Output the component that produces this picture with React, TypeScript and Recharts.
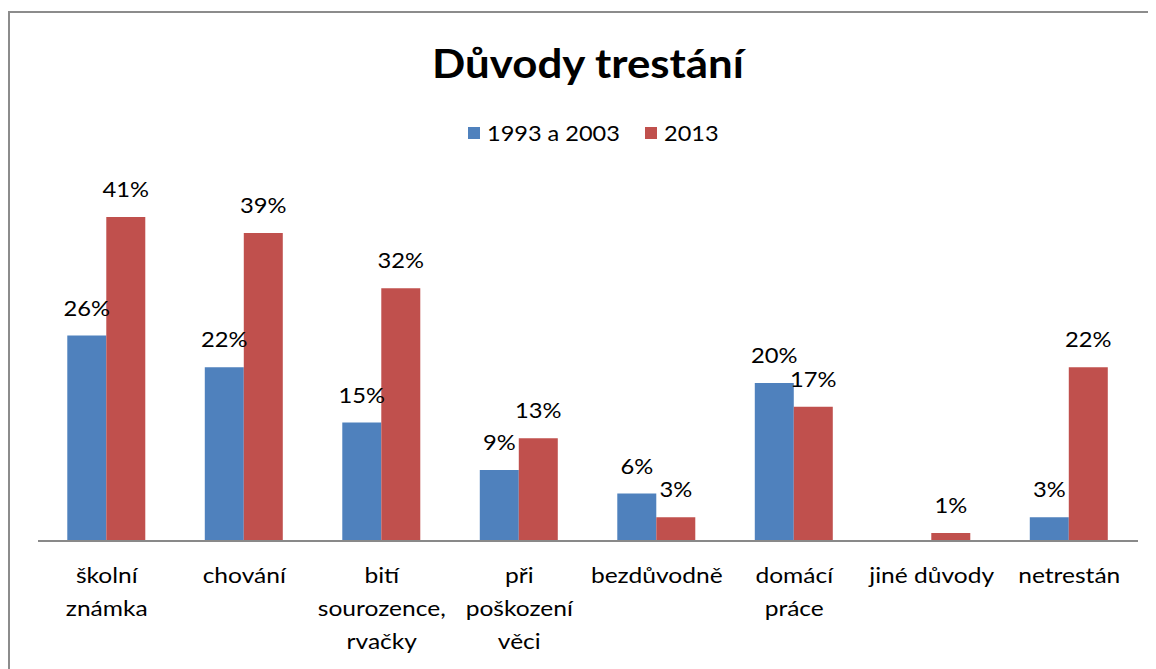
import { BarChart, Bar, XAxis, YAxis, Legend, LabelList } from 'recharts';

const categories = [
  'školní\nznámka',
  'chování',
  'bití\nsourozence,\nrvačky',
  'při\npoškození\nvěci',
  'bezdůvodně',
  'domácí\npráce',
  'jiné důvody',
  'netrestán',
];
const values1993 = [26, 22, 15, 9, 6, 20, null, 3];
const values2013 = [41, 39, 32, 13, 3, 17, 1, 22];
const seriesNames = ['1993 a 2003', '2013'];
const COLORS = ['#4F81BD', '#C0504D'];

const data = categories.map((name, i) => ({
  name,
  a: values1993[i],
  b: values2013[i],
}));

const FONT = 'Lato, "Open Sans", sans-serif';

// reference font (Calibri-like) runs wider than Lato, so stretch a bit
const CategoryTick = (props: any) => {
  const { x, y, payload } = props;
  const lines = String(payload.value).split('\n');
  return (
    <g>
      {lines.map((line, i) => (
        <text
          key={i}
          transform={`translate(${x},${y + 34 + i * 33}) scale(1.17,1)`}
          textAnchor="middle"
          fontSize={21}
          fontFamily={FONT}
          fill="#000"
        >
          {line}
        </text>
      ))}
    </g>
  );
};

const ValueLabel = (props: any) => {
  const { x, y, width, value } = props;
  if (value == null) return null;
  return (
    <text
      transform={`translate(${x + width / 2},${y - 20}) scale(1.13,1)`}
      textAnchor="middle"
      fontSize={21}
      fontFamily={FONT}
      fill="#000"
    >
      {value}%
    </text>
  );
};

const LegendContent = () => (
  <div
    style={{
      display: 'flex',
      alignItems: 'center',
      paddingLeft: 460,
      fontFamily: FONT,
      fontSize: 21,
      lineHeight: '24px',
    }}
  >
    <span style={{ width: 12, height: 12, background: COLORS[0], marginRight: 7 }} />
    <span style={{ display: 'inline-block', width: 158, whiteSpace: 'nowrap' }}>
      <span style={{ display: 'inline-block', transform: 'scaleX(1.12)', transformOrigin: 'left' }}>
        {seriesNames[0]}
      </span>
    </span>
    <span style={{ width: 12, height: 12, background: COLORS[1], marginRight: 7 }} />
    <span style={{ display: 'inline-block', transform: 'scaleX(1.12)', transformOrigin: 'left' }}>
      {seriesNames[1]}
    </span>
  </div>
);

export default function App() {
  return (
    <div style={{ position: 'relative', width: 1148, height: 661, overflow: 'hidden' }}>
      <div
        style={{
          position: 'absolute',
          left: 0,
          top: 3,
          width: 1200,
          height: 700,
          border: '2px solid #8c8c8c',
          boxSizing: 'border-box',
        }}
      />
      <div
        style={{
          position: 'absolute',
          left: 0,
          top: 31,
          width: 1160,
          textAlign: 'center',
          fontFamily: FONT,
          fontWeight: 700,
          fontSize: 40,
          lineHeight: '48px',
          transform: 'scaleX(1.095)',
        }}
      >
        Důvody trestání
      </div>
      <BarChart
        width={1148}
        height={661}
        data={data}
        margin={{ top: 177.5, right: 18, bottom: 0, left: 30 }}
        barCategoryGap="21.3%"
        barGap={0}
        style={{ position: 'absolute', left: 0, top: 0 }}
      >
        <XAxis
          dataKey="name"
          height={128}
          interval={0}
          tickLine={false}
          axisLine={{ stroke: '#898989', strokeWidth: 2 }}
          tick={<CategoryTick />}
        />
        <YAxis hide domain={[0, 45]} />
        <Legend
          verticalAlign="middle"
          content={<LegendContent />}
          wrapperStyle={{ top: 113, left: 0, width: 1148 }}
        />
        <Bar dataKey="a" name={seriesNames[0]} fill={COLORS[0]} isAnimationActive={false}>
          <LabelList dataKey="a" content={<ValueLabel />} />
        </Bar>
        <Bar dataKey="b" name={seriesNames[1]} fill={COLORS[1]} isAnimationActive={false}>
          <LabelList dataKey="b" content={<ValueLabel />} />
        </Bar>
      </BarChart>
    </div>
  );
}
